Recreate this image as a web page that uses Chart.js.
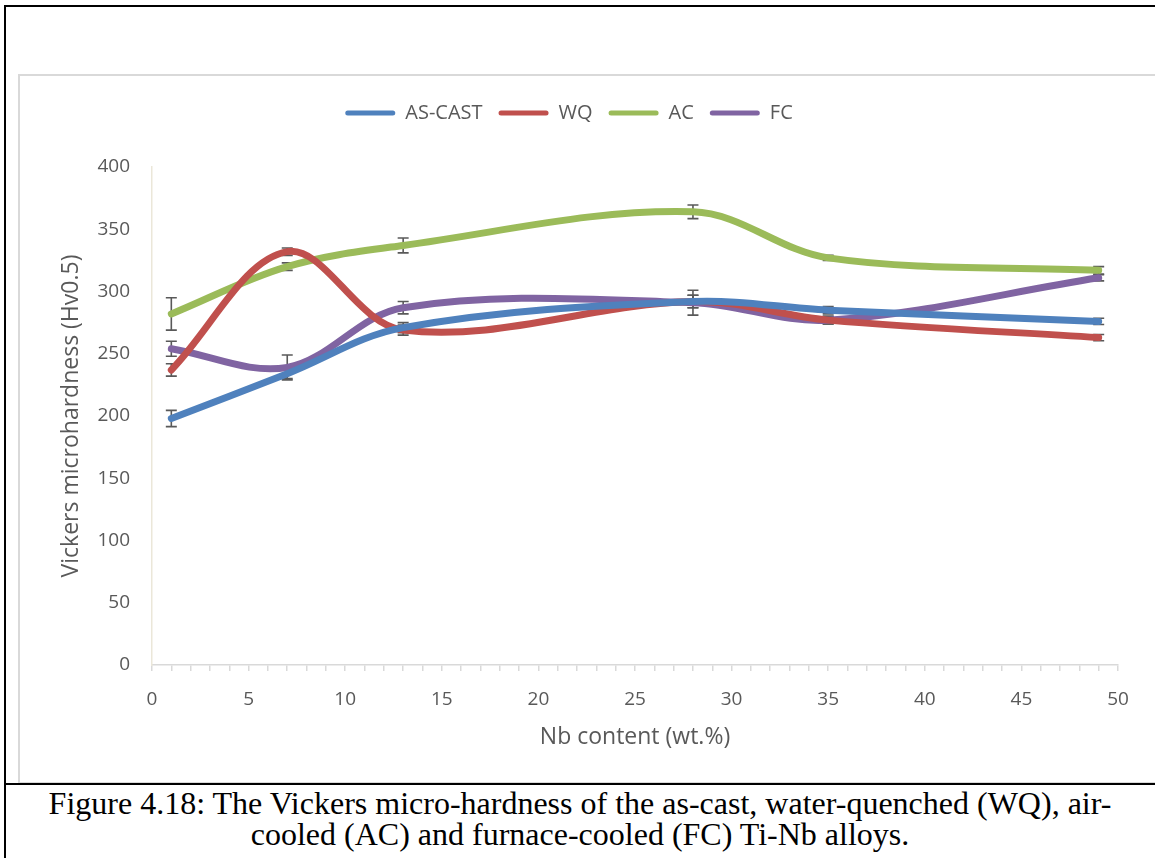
<!DOCTYPE html>
<html>
<head>
<meta charset="utf-8">
<title>Vickers micro-hardness of Ti-Nb alloys</title>
<script src="https://cdn.jsdelivr.net/npm/chart.js@4.4.1/dist/chart.umd.min.js"></script>
<style>
  html, body { margin: 0; padding: 0; background: #fff; }
  body { width: 1155px; height: 858px; position: relative; overflow: hidden; }
  .frame { position: absolute; left: 4px; top: 5px; width: 1200px; height: 900px; border-left: 2px solid #000; border-top: 2px solid #000; }
  .chart-box { position: absolute; left: 18px; top: 74px; width: 1200px; height: 706px; border: 2px solid #d9d9d9; }
  .chart-wrap { position: absolute; left: 20px; top: 76px; width: 1135px; height: 706px; }
  .rule { position: absolute; left: 4px; top: 783px; width: 1200px; height: 2px; background: #000; }
  .caption { position: absolute; left: 0; top: 788px; width: 1160px; text-align: center;
    font-family: "Liberation Serif", "Times New Roman", serif; font-size: 32px; line-height: 31px; color: #000; }
</style>
</head>
<body>
<div class="frame"></div>
<div class="chart-box"></div>
<div class="chart-wrap"><canvas id="hardness_chart"></canvas></div>
<div class="rule"></div>
<div class="caption">Figure 4.18: The Vickers micro-hardness of the as-cast, water-quenched (WQ), air-<br>cooled (AC) and furnace-cooled (FC) Ti-Nb alloys.</div>

<script>
// Nb content of each alloy (wt.%)
const nbContent = [1, 7, 13, 28, 35, 49];

// mean hardness per condition (Hv0.5)
const asCast = [198, 234, 271, 292, 285, 276];
const wq     = [237, 332, 269, 292, 277, 263];
const ac     = [282, 320, 337, 364, 327, 317];
const fc     = [254, 239, 287, 291, 277, 311];

// +/- spread of the measurements
const asCastErr = [6.5, 4, 4, 5, 3, 2.5];
const wqErr     = [5, 3, 4, 5, 3, 2.5];
const acErr     = [13, 3, 6, 5.5, 2, 3];
const fcErr     = [6, 10, 5, 10, 3, 2.5];

const seriesNames = ['AS-CAST', 'WQ', 'AC', 'FC'];
const seriesColors = ['#4f81bd', '#c0504d', '#9bbb59', '#8064a2'];

const xTicks = { min: 0, max: 50, step: 1, labelEvery: 5 };
const yTicks = { min: 0, max: 400, step: 50 };

Chart.defaults.font.family = '"Open Sans", sans-serif';
Chart.defaults.color = '#595959';

function makeSeries(label, values, errors, color) {
    return {
        label: label,
        data: nbContent.map((x, i) => ({ x: x, y: values[i] })),
        errors: errors,
        borderColor: color,
        backgroundColor: color,
        borderWidth: 7,
        borderCapStyle: 'round',
        borderJoinStyle: 'round',
        pointRadius: 0,
        pointHoverRadius: 0,
        tension: 0.35,
        clip: false
    };
}

// vertical error bars with small caps, drawn under the lines
const errorBars = {
    id: 'errorBars',
    beforeDatasetsDraw(chart) {
        const { ctx, scales: { x, y } } = chart;
        ctx.save();
        ctx.strokeStyle = '#595959';
        ctx.lineWidth = 1.6;
        chart.data.datasets.forEach((ds) => {
            ds.errors.forEach((err, j) => {
                const px = x.getPixelForValue(ds.data[j].x);
                const top = y.getPixelForValue(ds.data[j].y + err);
                const bottom = y.getPixelForValue(ds.data[j].y - err);
                ctx.beginPath();
                ctx.moveTo(px, top);
                ctx.lineTo(px, bottom);
                ctx.moveTo(px - 5.5, top);
                ctx.lineTo(px + 5.5, top);
                ctx.moveTo(px - 5.5, bottom);
                ctx.lineTo(px + 5.5, bottom);
                ctx.stroke();
            });
        });
        ctx.restore();
    }
};

const ctx = document.getElementById('hardness_chart');
new Chart(ctx, {
    type: 'line',
    data: {
        datasets: [
            makeSeries(seriesNames[0], asCast, asCastErr, seriesColors[0]),
            makeSeries(seriesNames[1], wq, wqErr, seriesColors[1]),
            makeSeries(seriesNames[2], ac, acErr, seriesColors[2]),
            makeSeries(seriesNames[3], fc, fcErr, seriesColors[3])
        ]
    },
    options: {
        responsive: true,
        maintainAspectRatio: false,
        animation: false,
        layout: { padding: { top: 11, right: 37, bottom: 0, left: 0 } },
        plugins: {
            legend: {
                position: 'top',
                labels: {
                    boxWidth: 50,
                    boxHeight: 5,
                    useBorderRadius: true,
                    borderRadius: 2.5,
                    padding: 16,
                    color: '#595959',
                    font: { size: 20 },
                    generateLabels(chart) {
                        return Chart.defaults.plugins.legend.labels.generateLabels(chart)
                            .map(item => Object.assign(item, { lineWidth: 0 }));
                    }
                }
            },
            tooltip: { enabled: false }
        },
        scales: {
            // empty top axis, only keeps a gap between legend and plot
            gap: {
                type: 'linear',
                position: 'top',
                display: true,
                ticks: { display: false },
                grid: { display: false, drawTicks: false },
                border: { display: false },
                afterFit(scale) { scale.height = 34; }
            },
            x: {
                type: 'linear',
                position: 'bottom',
                min: xTicks.min,
                max: xTicks.max,
                ticks: {
                    stepSize: xTicks.step,
                    autoSkip: false,
                    maxRotation: 0,
                    padding: 17,
                    font: { size: 19 },
                    callback: v => (v % xTicks.labelEvery === 0 ? v : '')
                },
                grid: {
                    display: true,
                    drawOnChartArea: false,
                    drawTicks: true,
                    tickLength: 6,
                    color: '#d9d9d9',
                    lineWidth: 1.5
                },
                border: { display: true, color: '#d9d9d9', width: 1.5 },
                title: {
                    display: true,
                    text: 'Nb content (wt.%)',
                    font: { size: 23 },
                    padding: { top: 0, bottom: 31 }
                },
                afterFit(scale) { scale.height = 117; }
            },
            y: {
                min: yTicks.min,
                max: yTicks.max,
                ticks: {
                    stepSize: yTicks.step,
                    padding: 22,
                    font: { size: 19 }
                },
                grid: { display: false, drawTicks: false },
                border: { display: true, color: '#ebe7d9', width: 1.5 },
                title: {
                    display: true,
                    text: 'Vickers microhardness (Hv0.5)',
                    font: { size: 23 },
                    padding: { top: 38, bottom: 0 }
                },
                afterFit(scale) { scale.width = 132; }
            }
        }
    },
    plugins: [errorBars]
});
</script>
</body>
</html>
